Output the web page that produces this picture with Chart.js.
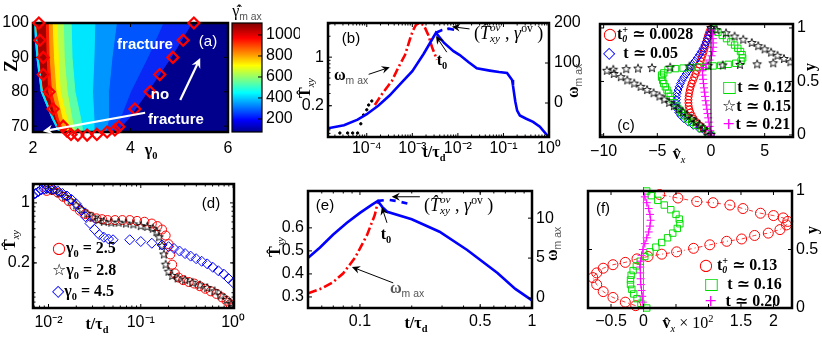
<!DOCTYPE html>
<html>
<head>
<meta charset="utf-8">
<title>fracture map and stress overshoot</title>
<script src="https://cdn.jsdelivr.net/npm/chart.js@4.4.1/dist/chart.umd.min.js"></script>
<style>
  body { margin: 0; background: #fff; }
  #fig { position: relative; width: 822px; height: 341px; overflow: hidden; background: #fff;
         font-family: "Liberation Sans", Arial, sans-serif; color: #000; }
  #fig canvas { position: absolute; }
  .lbl { position: absolute; white-space: nowrap; line-height: 1; z-index: 5; transform: translate(-50%, -50%); }
  .lft { transform: translate(0, -50%); }
  .rot { transform: translate(-50%, -50%) rotate(-90deg); }
  .m { font-family: "Liberation Serif", "DejaVu Serif", serif; font-weight: bold; font-size: 16px; }
  .ov { font-family: "Liberation Serif", "DejaVu Serif", serif; font-size: 18px; }
  .p { font-size: 15px; }
  .w { color: #fff; font-weight: bold; }
  sub, sup { font-size: 65%; line-height: 0; }
  .g { font-family: "Liberation Sans", Arial, sans-serif; font-weight: normal; color: #555; }
  .it { font-style: italic; font-weight: normal; }
  .st { display: inline-block; vertical-align: -0.3em; font-size: 62%; line-height: 0.95; text-align: left; }
  .st i { display: block; }
  .sym { font-family: "DejaVu Sans", sans-serif; font-weight: normal; }
</style>
</head>
<body>
<div id="fig">
  <!-- (a) -->
  <div class="lbl rot m" style="left:11px;top:66px;font-size:18px">Z</div>
  <div class="lbl m" style="left:151px;top:150px">&gamma;<sub>0</sub></div>
  <div class="lbl p w" style="left:145px;top:43px">fracture</div>
  <div class="lbl p" style="left:208px;top:40px;color:#fff">(a)</div>
  <div class="lbl p w" style="left:160px;top:93px">no</div>
  <div class="lbl p w" style="left:176px;top:118px">fracture</div>
  <div class="lbl m" style="left:247px;top:11px;font-weight:normal">&gamma;&#770;&#775;<sub class="g">m ax</sub></div>

  <!-- (b) -->
  <div class="lbl p" style="left:351px;top:37px">(b)</div>
  <div class="lbl rot m" style="left:305px;top:88px">T&#770;<sub class="it">xy</sub></div>
  <div class="lbl m" style="left:351px;top:75px">&omega;<sub class="g">m ax</sub></div>
  <div class="lbl m" style="left:442px;top:60px">t<sub>0</sub></div>
  <div class="lbl lft ov" style="left:474px;top:33px">(<i>T&#770;</i><span class="st"><i>ov</i><i>xy</i></span> , <i>&gamma;</i><sup>ov</sup> )</div>
  <div class="lbl rot m" style="left:573px;top:81px">&omega;<sub class="g">m ax</sub></div>
  <div class="lbl m" style="left:434px;top:152px">t/&tau;<sub>d</sub></div>

  <!-- (c) -->
  <div class="lbl lft m" style="left:603px;top:34px"><span class="sym" style="color:#f00">&#9675;</span>t<span class="st"><i>+</i><i>0</i></span> &#8771; 0.0028</div>
  <div class="lbl lft m" style="left:603px;top:53px"><span class="sym" style="color:#00f">&#9671;</span>&nbsp; t &#8771; 0.05</div>
  <div class="lbl lft m" style="left:722px;top:87px"><span class="sym" style="color:#0d0">&#9633;</span>t &#8771; 0.12</div>
  <div class="lbl lft m" style="left:722px;top:106px"><span class="sym">&#9734;</span>t &#8771; 0.15</div>
  <div class="lbl lft m" style="left:722px;top:124px"><span class="sym" style="color:#f0f">+</span>t &#8771; 0.21</div>
  <div class="lbl p" style="left:626px;top:124px">(c)</div>
  <div class="lbl m" style="left:679px;top:154px">v&#770;<sub class="it">x</sub></div>
  <div class="lbl rot m" style="left:810px;top:67px">y</div>

  <!-- (d) -->
  <div class="lbl p" style="left:211px;top:202px">(d)</div>
  <div class="lbl lft m" style="left:52px;top:248px"><span class="sym" style="color:#f00">&#9675;</span>&gamma;<sub>0</sub> = 2.5</div>
  <div class="lbl lft m" style="left:52px;top:270px"><span class="sym">&#9734;</span>&gamma;<sub>0</sub> = 2.8</div>
  <div class="lbl lft m" style="left:52px;top:291px"><span class="sym" style="color:#00f">&#9671;</span>&gamma;<sub>0</sub> = 4.5</div>
  <div class="lbl rot m" style="left:10px;top:240px">T&#770;<sub class="it">xy</sub></div>
  <div class="lbl m" style="left:97px;top:324px">t/&tau;<sub>d</sub></div>

  <!-- (e) -->
  <div class="lbl p" style="left:325px;top:204px">(e)</div>
  <div class="lbl m" style="left:386px;top:234px">t<sub>0</sub></div>
  <div class="lbl lft ov" style="left:424px;top:205px">(<i>T&#770;</i><span class="st"><i>ov</i><i>xy</i></span> , <i>&gamma;</i><sup>ov</sup> )</div>
  <div class="lbl m" style="left:407px;top:288px;color:#555">&omega;<sub class="g">m ax</sub></div>
  <div class="lbl rot m" style="left:275px;top:247px">T&#770;<sub class="it">xy</sub></div>
  <div class="lbl rot m" style="left:552px;top:244px">&omega;<sub class="g">m ax</sub></div>
  <div class="lbl m" style="left:416px;top:323px">t/&tau;<sub>d</sub></div>

  <!-- (f) -->
  <div class="lbl p" style="left:603px;top:207px">(f)</div>
  <div class="lbl lft m" style="left:699px;top:265px"><span class="sym" style="color:#f00">&#9675;</span> t<span class="st"><i>+</i><i>0</i></span> &#8771; 0.13</div>
  <div class="lbl lft m" style="left:704px;top:284px"><span class="sym" style="color:#0d0">&#9633;</span>&nbsp; t &#8771; 0.16</div>
  <div class="lbl lft m" style="left:704px;top:301px"><span class="sym" style="color:#f0f">+</span>&nbsp; t &#8771; 0.20</div>
  <div class="lbl m" style="left:688px;top:323px">v&#770;<sub class="it">x</sub> <span style="font-weight:normal">&times; 10<sup>2</sup></span></div>
  <div class="lbl rot m" style="left:812px;top:230px">y</div>
</div>

<script>
// ---------- (a) fracture map: contour bands and boundary diamonds (gamma0, Z) ----------
const aDiamondGamma = [2.12, 2.14, 2.21, 2.21, 2.33, 2.41, 2.62, 2.70, 2.78, 2.92, 3.11, 3.31, 3.52, 3.68, 3.76, 4.09, 4.40, 4.60, 4.87, 5.08, 5.30];
const aDiamondZ     = [100, 95, 90, 85, 80, 75, 70, 68.5, 67.6, 67.4, 67.4, 67.6, 68.3, 68.9, 69.8, 75, 80, 85, 90, 95, 100];

// contour lines: gamma0 where each band ends, at these Z levels
const aLevelZ    = [101, 90, 80, 72, 66];
const aEdgeOuter = [2.02, 2.08, 2.17, 2.40, 2.62];
const aEdgeInner = [2.07, 2.13, 2.22, 2.45, 2.67];
const aBlue2     = [5.30, 4.83, 4.35, 3.95, 3.55];
const aBlue1     = [4.70, 4.35, 4.00, 3.78, 3.50];
const aLightBlue = [3.72, 3.62, 3.55, 3.55, 3.45];
const aCyan      = [3.27, 3.25, 3.22, 3.25, 3.25];
const aAqua      = [2.78, 2.80, 2.86, 2.98, 3.05];
const aLime      = [2.62, 2.64, 2.70, 2.80, 2.90];
const aYellow    = [2.49, 2.52, 2.56, 2.70, 2.85];
const aOrange    = [2.39, 2.42, 2.47, 2.60, 2.78];
const aRed       = [2.31, 2.33, 2.38, 2.52, 2.70];
const aDarkRed   = [2.25, 2.27, 2.30, 2.46, 2.68];

const aTickX = [2, 4, 6];
const aTickY = [70, 80, 90, 100];
const cbarRange = [76, 1114];
const cbarTicks = [200, 400, 600, 800, 1000];

// ---------- (b) shear stress (left, log) and vorticity (right) vs t/tau_d ----------
const bTimeShear = [1.41e-5, 3.16e-5, 6.3e-5, 1.0e-4, 1.78e-4, 3.16e-4, 5.6e-4, 1.0e-3, 1.78e-3, 3.3e-3, 5.0e-3, 8.0e-3, 0.011, 0.017, 0.026, 0.05, 0.08, 0.12, 0.155, 0.162, 0.182, 0.2, 0.229, 0.316, 0.447, 0.63, 1.0];
const bShear     = [0.095, 0.105, 0.126, 0.151, 0.2, 0.28, 0.42, 0.63, 1.12, 2.24, 1.6, 1.22, 1.07, 0.85, 0.69, 0.64, 0.61, 0.59, 0.47, 0.39, 0.23, 0.17, 0.145, 0.13, 0.117, 0.1, 0.07];
const bTimeOver  = [3.3e-3, 4.5e-3, 6.3e-3, 8.9e-3];
const bShearOver = [2.24, 2.45, 2.57, 2.45];
const bTimeOmega = [1.5e-4, 2.24e-4, 3.55e-4, 5.0e-4, 6.9e-4, 8.9e-4, 1.02e-3, 1.2e-3, 1.41e-3, 1.78e-3, 2.24e-3, 2.7e-3, 3.16e-3, 3.47e-3];
const bOmega     = [-5, 25, 55, 90, 120, 160, 180, 195, 200, 195, 170, 140, 120, 108];
const bTimeDots  = [2.57e-5, 3.8e-5, 4.9e-5, 6.3e-5, 7.4e-5, 8.5e-5, 1.0e-4, 1.1e-4, 1.29e-4];
const bOmegaDots = [-75, -75, -75, -75, -52, -30, -17, -5, 5];
const bTickX = [1e-4, 1e-3, 1e-2, 1e-1, 1];
const bTickLabelX = ['10⁻⁴', '10⁻³', '10⁻²', '10⁻¹', '10⁰'];
const bTickY = [0.2, 1];
const bTickY2 = [0, 100, 200];

// ---------- (c) velocity profiles v_x(y) at early times ----------
const cGridY  = [0, 0.03, 0.06, 0.09, 0.12, 0.15, 0.18, 0.21, 0.24, 0.27, 0.30, 0.33, 0.36, 0.39, 0.42, 0.45, 0.48, 0.51, 0.54, 0.57, 0.60, 0.63, 0.66, 0.69, 0.72, 0.75, 0.78, 0.81, 0.84, 0.87, 0.90, 0.93, 0.96, 0.99];
const cRedV   = [0, -0.3, -0.7, -1.05, -1.35, -1.6, -1.78, -1.92, -2.02, -2.08, -2.1, -2.1, -2.08, -2.03, -1.97, -1.9, -1.8, -1.68, -1.56, -1.44, -1.32, -1.2, -1.08, -0.97, -0.87, -0.77, -0.68, -0.6, -0.52, -0.44, -0.36, -0.27, -0.17, -0.05];
const cBlueV  = [0, -0.5, -1.1, -1.65, -2.1, -2.5, -2.8, -3.0, -3.12, -3.2, -3.22, -3.22, -3.2, -3.15, -3.07, -2.97, -2.85, -2.7, -2.52, -2.32, -2.12, -1.92, -1.72, -1.5, -1.28, -1.08, -0.9, -0.73, -0.58, -0.45, -0.32, -0.2, -0.08, 0.05];
const cGreenV = [0, -0.4, -0.9, -1.4, -1.8, -2.2, -2.5, -2.75, -3.0, -3.2, -3.4, -3.6, -3.8, -3.95, -4.1, -4.25, -4.4, -4.5, -4.6, -4.6, -4.4, -4.0, -3.3, -2.6, -1.9, -1.2, -0.5, 0.2, 0.9, 1.6, 2.3, 2.8, 2.95, 2.9, 2.75, 2.5, 2.2, 1.85, 1.45, 1.05, 0.65, 0.3];
const cGreenY = [0, 0.03, 0.06, 0.09, 0.12, 0.15, 0.18, 0.21, 0.24, 0.27, 0.30, 0.33, 0.36, 0.39, 0.42, 0.45, 0.48, 0.51, 0.54, 0.56, 0.58, 0.61, 0.62, 0.625, 0.63, 0.635, 0.64, 0.645, 0.65, 0.66, 0.67, 0.69, 0.72, 0.75, 0.78, 0.81, 0.84, 0.87, 0.90, 0.93, 0.96, 0.99];
const cStarV  = [0, -0.35, -0.7, -1.05, -1.4, -1.8, -2.2, -2.6, -3.0, -3.45, -3.9, -4.35, -4.8, -5.35, -5.95, -6.55, -7.15, -7.8, -8.4, -9.05, -9.7,
                 -9.1, -7.9, -6.8, -5.5, -3.8, -2.0, -0.26, 1.1, 2.7, 4.3, 5.8, 7.4,
                 6.8, 6.2, 5.6, 5.0, 4.4, 3.8, 3.0, 2.2, 1.4, 0.5, 0];
const cStarY  = [0, 0.03, 0.06, 0.09, 0.12, 0.15, 0.18, 0.21, 0.24, 0.27, 0.30, 0.33, 0.36, 0.39, 0.42, 0.45, 0.48, 0.51, 0.54, 0.57, 0.60,
                 0.61, 0.615, 0.62, 0.625, 0.63, 0.64, 0.645, 0.65, 0.655, 0.66, 0.67, 0.68,
                 0.71, 0.74, 0.77, 0.80, 0.83, 0.86, 0.89, 0.92, 0.95, 0.98, 1.0];
const cMagV   = [0, -0.07, -0.13, -0.2, -0.26, -0.32, -0.38, -0.44, -0.5, -0.55, -0.6, -0.65, -0.7, -0.74, -0.78, -0.8, -0.7, -0.45, -0.15, 0.05, 0.15, 0.2, 0.2, 0.18, 0.12, 0.05];
const cMagY   = [0, 0.04, 0.08, 0.12, 0.16, 0.2, 0.24, 0.28, 0.32, 0.36, 0.4, 0.44, 0.48, 0.52, 0.56, 0.6, 0.63, 0.66, 0.7, 0.74, 0.78, 0.82, 0.86, 0.9, 0.94, 0.98];
const cZeroV  = [0, 0];
const cZeroY  = [-0.05, 1.05];
const cTickX = [-10, -5, 0, 5];
const cTickLabelX = ['−10', '−5', '0', '5'];
const cTickY = [0, 0.5, 1];

// ---------- (d) shear stress decay for three gamma0 ----------
const dRedT  = [0.00955, 0.01096, 0.01259, 0.01445, 0.0166, 0.0191, 0.0219, 0.0251, 0.0288, 0.0331, 0.038, 0.0437, 0.0525, 0.0631, 0.0759, 0.0912, 0.1096, 0.1318, 0.1514, 0.17, 0.186, 0.2, 0.209, 0.219, 0.234, 0.257, 0.288, 0.331, 0.38, 0.437, 0.501, 0.575, 0.661, 0.759, 0.851, 0.933, 1.0];
const dRedS  = [1.38, 1.41, 1.32, 1.175, 1.047, 0.912, 0.813, 0.741, 0.692, 0.661, 0.646, 0.631, 0.631, 0.631, 0.631, 0.617, 0.603, 0.575, 0.537, 0.49, 0.417, 0.331, 0.251, 0.191, 0.151, 0.135, 0.126, 0.12, 0.115, 0.107, 0.1, 0.0933, 0.0871, 0.0794, 0.0724, 0.0661, 0.0603];
const dStarT = [0.01, 0.01148, 0.01318, 0.01514, 0.01738, 0.01995, 0.0229, 0.0263, 0.0302, 0.0347, 0.0398, 0.0479, 0.0575, 0.0692, 0.0832, 0.1, 0.1175, 0.1349, 0.148, 0.158, 0.17, 0.178, 0.186, 0.2, 0.219, 0.251, 0.302, 0.363, 0.437, 0.525, 0.631, 0.741, 0.851, 0.955, 1.0];
const dStarS = [1.413, 1.38, 1.288, 1.175, 1.047, 0.933, 0.832, 0.741, 0.676, 0.631, 0.603, 0.589, 0.589, 0.575, 0.562, 0.537, 0.525, 0.501, 0.457, 0.398, 0.316, 0.251, 0.191, 0.158, 0.141, 0.132, 0.126, 0.1175, 0.1096, 0.102, 0.0933, 0.0832, 0.0741, 0.0661, 0.0617];
const dBlueT = [0.00676, 0.00724, 0.00776, 0.00832, 0.00891, 0.00955, 0.01023, 0.01122, 0.01259, 0.01413, 0.01585, 0.01778, 0.01995, 0.0224, 0.0251, 0.0282, 0.0316, 0.0355, 0.0398, 0.0447, 0.0501,
                0.0759, 0.1, 0.1318, 0.17, 0.2, 0.229, 0.263, 0.302, 0.347, 0.398, 0.457, 0.525, 0.603, 0.692, 0.794, 0.891, 1.0];
const dBlueS = [1.23, 1.288, 1.349, 1.413, 1.445, 1.479, 1.479, 1.445, 1.38, 1.288, 1.202, 1.096, 0.977, 0.832, 0.692, 0.575, 0.49, 0.427, 0.398, 0.38, 0.372,
                0.372, 0.355, 0.339, 0.324, 0.309, 0.295, 0.275, 0.257, 0.24, 0.224, 0.209, 0.195, 0.178, 0.162, 0.148, 0.132, 0.1175];
const dTickX = [0.01, 0.1, 1];
const dTickLabelX = ['10⁻²', '10⁻¹', '10⁰'];
const dTickY = [0.2, 1];

// ---------- (e) shear stress (left) and vorticity (right), gamma0 = 4.5 ----------
const eTimeShear = [0.05, 0.0586, 0.0697, 0.084, 0.1, 0.117, 0.127, 0.135, 0.144, 0.2, 0.29, 0.42, 0.63, 0.8, 1.0];
const eShear     = [0.47, 0.515, 0.57, 0.622, 0.665, 0.7, 0.717, 0.69, 0.67, 0.637, 0.583, 0.504, 0.404, 0.335, 0.285];
const eTimeOver  = [0.127, 0.145, 0.165, 0.19];
const eShearOver = [0.717, 0.722, 0.716, 0.705];
const eTimeOmega = [0.05, 0.06, 0.07, 0.08, 0.094, 0.11, 0.122, 0.127];
const eOmega     = [0.6, 1.2, 2.0, 3.1, 5.1, 7.9, 10.4, 12.0];
const eTickX = [0.1, 0.5, 1];
const eTickY = [0.3, 0.4, 0.5, 0.6];
const eTickY2 = [0, 5, 10];

// ---------- (f) velocity profiles after t0 (x 10^2) ----------
const fRedV   = [-0.12, -0.28, -0.47, -0.62, -0.72, -0.78, -0.72, -0.62, -0.47, -0.28, -0.10, 0.07, 0.28, 0.51, 0.77, 1.02, 1.28, 1.51, 1.71, 1.92, 2.10, 2.20, 2.22, 2.15, 2.00, 1.80, 1.53, 1.33, 1.07, 0.82, 0.53, 0.25];
const fRedY   = [0.02, 0.05, 0.09, 0.14, 0.20, 0.26, 0.30, 0.34, 0.37, 0.39, 0.42, 0.44, 0.46, 0.48, 0.51, 0.54, 0.57, 0.59, 0.62, 0.64, 0.67, 0.71, 0.74, 0.77, 0.79, 0.81, 0.85, 0.88, 0.90, 0.91, 0.94, 0.97];
const fGreenV = [0.05, -0.04, -0.1, -0.15, -0.18, -0.2, -0.2, -0.19, -0.16, -0.11, -0.05, 0.02, 0.1, 0.19, 0.28, 0.37, 0.45, 0.52, 0.56, 0.55, 0.5, 0.42, 0.32, 0.22, 0.12, 0.05];
const fGreenY = [0, 0.04, 0.08, 0.12, 0.16, 0.2, 0.24, 0.28, 0.32, 0.36, 0.4, 0.44, 0.48, 0.52, 0.56, 0.6, 0.64, 0.68, 0.72, 0.76, 0.8, 0.84, 0.88, 0.92, 0.96, 1.0];
const fMagV   = [0, -0.01, -0.02, -0.03, -0.04, -0.045, -0.05, -0.05, -0.045, -0.03, -0.01, 0.02, 0.05, 0.08, 0.1, 0.11, 0.1, 0.08, 0.05, 0.02, 0];
const fMagY   = [0, 0.05, 0.1, 0.15, 0.2, 0.25, 0.3, 0.35, 0.4, 0.45, 0.5, 0.55, 0.6, 0.65, 0.7, 0.75, 0.8, 0.85, 0.9, 0.95, 1.0];
const fZeroV  = [0, 0];
const fZeroY  = [0, 1];
const fTickX = [-0.5, 0, 0.5, 1, 1.5, 2];
const fTickLabelX = ['−0.5', '0', '', '', '1.5', '2'];
const fTickY = [0, 0.5, 1];

// ---------------------------------------------------------------------------------

Chart.defaults.font.family = '"Liberation Sans", Arial, sans-serif';
Chart.defaults.font.size = 16;
Chart.defaults.color = '#000';
Chart.defaults.plugins.legend.display = false;
Chart.defaults.plugins.tooltip.enabled = false;

const jetStops = [[0, '#00008f'], [0.11, '#0000ff'], [0.36, '#00ffff'], [0.61, '#ffff00'], [0.86, '#ff0000'], [1, '#800000']];

// box with inward ticks (matlab look)
function drawFrame(chart, o) {
  const { ctx, chartArea: a } = chart;
  ctx.save();
  ctx.strokeStyle = '#000';
  ctx.lineWidth = 1;
  Object.values(chart.scales).forEach(s => {
    if (!s.options.display) return;
    const horiz = s.isHorizontal();
    const sides = [s.position];
    if (horiz && o.mirrorX) sides.push(s.position === 'bottom' ? 'top' : 'bottom');
    if (!horiz && o.mirrorY) sides.push(s.position === 'left' ? 'right' : 'left');
    const marks = s.ticks.map(t => [t.value, 4]);
    if (s.type === 'logarithmic') {
      for (let e = Math.floor(Math.log10(s.min)); e <= Math.ceil(Math.log10(s.max)); e++) {
        for (let m = 2; m <= 9; m++) {
          const v = m * Math.pow(10, e);
          if (v > s.min && v < s.max) marks.push([v, 2.5]);
        }
      }
    }
    marks.forEach(([v, len]) => {
      const p = s.getPixelForValue(v);
      sides.forEach(side => {
        ctx.beginPath();
        if (side === 'bottom') { ctx.moveTo(p, a.bottom); ctx.lineTo(p, a.bottom - len); }
        if (side === 'top') { ctx.moveTo(p, a.top); ctx.lineTo(p, a.top + len); }
        if (side === 'left') { ctx.moveTo(a.left, p); ctx.lineTo(a.left + len, p); }
        if (side === 'right') { ctx.moveTo(a.right, p); ctx.lineTo(a.right - len, p); }
        ctx.stroke();
      });
    });
  });
  ctx.lineWidth = o.width || 2.5;
  ctx.strokeRect(a.left, a.top, a.right - a.left, a.bottom - a.top);
  ctx.restore();
}

const framePlugin = {
  id: 'frame',
  beforeDatasetsDraw(chart) {
    const o = chart.config.options.plugins.frame || {};
    if (!o.bg) return;
    const a = chart.chartArea;
    chart.ctx.save();
    chart.ctx.fillStyle = o.bg;
    chart.ctx.fillRect(a.left, a.top, a.right - a.left, a.bottom - a.top);
    chart.ctx.restore();
  },
  afterDatasetDraw(chart, args) {
    const o = chart.config.options.plugins.frame || {};
    if (o.after === args.index) drawFrame(chart, o);
  },
  afterDatasetsDraw(chart) {
    const o = chart.config.options.plugins.frame || {};
    if (o.after === undefined) drawFrame(chart, o);
  }
};

// annotation arrows given in data coordinates
const arrowPlugin = {
  id: 'arrows',
  afterDraw(chart) {
    const list = (chart.config.options.plugins.arrows || {}).list || [];
    const ctx = chart.ctx;
    list.forEach(a => {
      const sx = chart.scales.x, sy = chart.scales[a.axis || 'y'];
      const x1 = sx.getPixelForValue(a.from[0]), y1 = sy.getPixelForValue(a.from[1]);
      const x2 = sx.getPixelForValue(a.to[0]), y2 = sy.getPixelForValue(a.to[1]);
      const ang = Math.atan2(y2 - y1, x2 - x1);
      const h = a.head || 8;
      ctx.save();
      ctx.strokeStyle = ctx.fillStyle = a.color || '#000';
      ctx.lineWidth = a.width || 1;
      ctx.beginPath();
      ctx.moveTo(x1, y1);
      ctx.lineTo(x2 - h * 0.6 * Math.cos(ang), y2 - h * 0.6 * Math.sin(ang));
      ctx.stroke();
      ctx.beginPath();
      ctx.moveTo(x2, y2);
      ctx.lineTo(x2 - h * Math.cos(ang - 0.45), y2 - h * Math.sin(ang - 0.45));
      ctx.lineTo(x2 - h * 0.6 * Math.cos(ang), y2 - h * 0.6 * Math.sin(ang));
      ctx.lineTo(x2 - h * Math.cos(ang + 0.45), y2 - h * Math.sin(ang + 0.45));
      ctx.closePath();
      ctx.fill();
      ctx.restore();
    });
  }
};

Chart.register(framePlugin, arrowPlugin);

function mkCanvas(x, y, w, h) {
  const c = document.createElement('canvas');
  c.width = w; c.height = h;
  c.style.left = x + 'px'; c.style.top = y + 'px';
  c.style.width = w + 'px'; c.style.height = h + 'px';
  document.getElementById('fig').appendChild(c);
  return c;
}

function xy(xs, ys) { return xs.map((x, i) => ({ x, y: ys[i] })); }

function axis(type, position, min, max, ticks, labels, size, pad) {
  const horiz = position === 'bottom' || position === 'top';
  return {
    type, position, min, max, bounds: 'data',
    grid: { display: false, drawTicks: false },
    border: { display: false },
    ticks: { padding: pad, maxRotation: 0, autoSkip: false, callback: (v, i) => labels[i] },
    afterBuildTicks: s => { s.ticks = ticks.map(v => ({ value: v })); },
    afterFit: s => { if (horiz) s.height = size; else s.width = size; }
  };
}

function lineSet(xs, ys, color, width, dash, axisId) {
  return { data: xy(xs, ys), showLine: true, borderColor: color, borderWidth: width, borderDash: dash,
           pointRadius: 0, tension: 0, fill: false, yAxisID: axisId || 'y' };
}

function markSet(xs, ys, style, color, radius, axisId) {
  return { data: xy(xs, ys), showLine: false, pointStyle: style, pointRadius: radius,
           pointBorderColor: color, pointBackgroundColor: 'rgba(0,0,0,0)', pointBorderWidth: 1,
           yAxisID: axisId || 'y' };
}

function starIcon(r, color) {
  const c = document.createElement('canvas');
  const s = Math.ceil(r * 2 + 3);
  c.width = c.height = s;
  const g = c.getContext('2d');
  g.strokeStyle = color;
  g.lineWidth = 0.9;
  g.beginPath();
  for (let k = 0; k < 10; k++) {
    const rr = k % 2 ? r * 0.42 : r;
    const an = -Math.PI / 2 + k * Math.PI / 5;
    g.lineTo(s / 2 + rr * Math.cos(an), s / 2 + rr * Math.sin(an));
  }
  g.closePath();
  g.stroke();
  return c;
}

function opts(padding, scales, frame, arrows) {
  return {
    responsive: false, animation: false, events: [], devicePixelRatio: 1,
    layout: { padding },
    scales,
    plugins: { frame, arrows: { list: arrows || [] } }
  };
}

const str = a => a.map(String);

// ----- (a) -----
function bandShape(edge, band) {
  const left = aLevelZ.map((z, i) => ({ x: edge[i], y: z }));
  const right = aLevelZ.map((z, i) => ({ x: band[i], y: z })).reverse();
  return [{ x: 1.9, y: 101 }, ...left, ...right, { x: 6.1, y: 101 }];
}

const aBands = [
  [aDarkRed, '#a50000', aEdgeInner],
  [aRed, '#ff1a00', aEdgeInner],
  [aOrange, '#ff9600', aEdgeInner],
  [aYellow, '#fff000', aEdgeInner],
  [aLime, '#b4ff4c', aEdgeInner],
  [aAqua, '#5affa8', aEdgeInner],
  [aCyan, '#00e6ff', aEdgeOuter],
  [aLightBlue, '#0096ff', aEdgeOuter],
  [aBlue1, '#0055ff', aEdgeOuter],
  [aBlue2, '#0a28f5', aEdgeOuter]
];

const aDatasets = [{
  data: xy(aDiamondGamma, aDiamondZ), showLine: false, pointStyle: 'rectRot', pointRadius: 5.5,
  pointBorderColor: '#ff0000', pointBackgroundColor: 'rgba(0,0,0,0)', pointBorderWidth: 2.2, clip: false
}].concat(aBands.map(([band, color, edge]) => ({
  data: bandShape(edge, band), fill: 'shape', showLine: true, backgroundColor: color,
  borderColor: color, borderWidth: 1, pointRadius: 0, tension: 0
})));

new Chart(mkCanvas(0, 0, 242, 160), {
  type: 'line',
  data: { datasets: aDatasets },
  options: opts({ left: 0, top: 23, right: 14, bottom: 0 }, {
    x: axis('linear', 'bottom', 2, 6, aTickX, str(aTickX), 28, 7),
    y: axis('linear', 'left', 68.3, 100, aTickY, str(aTickY), 33, 4)
  }, { after: 1, mirrorX: true, mirrorY: true, bg: '#00008c' }, [
    { from: [4.30, 73.9], to: [2.2, 68.5], color: '#fff', width: 2.2, head: 11 },
    { from: [5.02, 77.6], to: [5.43, 89.8], color: '#fff', width: 2.2, head: 11 }
  ])
});

// colour bar
new Chart(mkCanvas(226, 0, 74, 160), {
  type: 'bar',
  data: { labels: [''], datasets: [{
    data: [cbarRange], barPercentage: 1, categoryPercentage: 1, borderWidth: 0,
    backgroundColor: c => {
      const a = c.chart.chartArea;
      if (!a) return '#000';
      const g = c.chart.ctx.createLinearGradient(0, a.bottom, 0, a.top);
      jetStops.forEach(([p, col]) => g.addColorStop(p, col));
      return g;
    }
  }] },
  options: opts({ left: 6, top: 23, right: 0, bottom: 28 }, {
    x: { display: false },
    y: axis('linear', 'right', cbarRange[0], cbarRange[1], cbarTicks, str(cbarTicks), 38, 4)
  }, { width: 1.2 })
});

// ----- (b) -----
new Chart(mkCanvas(296, 0, 292, 160), {
  type: 'scatter',
  data: { datasets: [
    lineSet(bTimeShear, bShear, '#0000ff', 2.6, [], 'y'),
    lineSet(bTimeOver, bShearOver, '#0000ff', 2.6, [7, 5], 'y'),
    lineSet(bTimeOmega, bOmega, '#ff0000', 2.6, [9, 3, 2, 3], 'y1'),
    { data: xy(bTimeDots, bOmegaDots), showLine: false, pointRadius: 1.2, pointBackgroundColor: '#000',
      pointBorderColor: '#000', yAxisID: 'y1' }
  ] },
  options: opts({ left: 0, top: 23, right: 0, bottom: 0 }, {
    x: axis('logarithmic', 'bottom', 1.41e-5, 1, bTickX, bTickLabelX, 23, 2),
    y: axis('logarithmic', 'left', 0.071, 3.1, bTickY, str(bTickY), 32, 4),
    y1: axis('linear', 'right', -85, 200, bTickY2, str(bTickY2), 39, 5)
  }, { mirrorX: true }, [
    { from: [1.1e-4, 0.566], to: [3.2e-4, 0.715], head: 9 },
    { from: [5.7e-3, 1.18], to: [3.3e-3, 2.02], head: 9 },
    { from: [0.018, 2.55], to: [7.4e-3, 2.74], head: 9 }
  ])
});

// ----- (c) -----
new Chart(mkCanvas(580, 0, 242, 160), {
  type: 'scatter',
  data: { datasets: [
    lineSet(cZeroV, cZeroY, '#000', 1, []),
    markSet(cMagV, cMagY, 'cross', '#ff00ff', 4),
    markSet(cStarV, cStarY, starIcon(4.5, '#000'), '#000', 4.5),
    markSet(cGreenV, cGreenY, 'rect', '#00e000', 4.5),
    markSet(cBlueV, cGridY, 'rectRot', '#0000ff', 4),
    markSet(cRedV, cGridY, 'circle', '#ff0000', 3.5)
  ] },
  options: opts({ left: 20, top: 24, right: 0, bottom: 0 }, {
    x: axis('linear', 'bottom', -10.34, 7.64, cTickX, cTickLabelX, 23, 5),
    y: axis('linear', 'right', -0.019, 1.037, cTickY, str(cTickY), 29, 4)
  }, { mirrorX: true, mirrorY: true })
});

// ----- (d) -----
new Chart(mkCanvas(0, 165, 250, 176), {
  type: 'scatter',
  data: { datasets: [
    markSet(dBlueT, dBlueS, 'rectRot', '#0000ff', 5),
    markSet(dStarT, dStarS, starIcon(4.5, '#000'), '#000', 4.5),
    markSet(dRedT, dRedS, 'circle', '#ff0000', 4.5)
  ] },
  options: opts({ left: 0, top: 19, right: 10, bottom: 0 }, {
    x: axis('logarithmic', 'bottom', 0.00679, 1.024, dTickX, dTickLabelX, 33, 5),
    y: axis('logarithmic', 'left', 0.0597, 1.66, dTickY, str(dTickY), 33, 3)
  }, { mirrorX: true, mirrorY: true })
});

// ----- (e) -----
new Chart(mkCanvas(272, 165, 290, 176), {
  type: 'scatter',
  data: { datasets: [
    lineSet(eTimeShear, eShear, '#0000ff', 2.6, [], 'y'),
    lineSet(eTimeOver, eShearOver, '#0000ff', 2.6, [6, 6], 'y'),
    lineSet(eTimeOmega, eOmega, '#ff0000', 2.6, [9, 3, 2, 3], 'y1')
  ] },
  options: opts({ left: 0, top: 26, right: 0, bottom: 0 }, {
    x: axis('logarithmic', 'bottom', 0.0499, 1, eTickX, str(eTickX), 33, 4),
    y: axis('linear', 'left', 0.252, 0.76, eTickY, str(eTickY), 36, 4),
    y1: axis('linear', 'right', -1.25, 13.4, eTickY2, str(eTickY2), 30, 4)
  }, { mirrorX: true }, [
    { from: [0.223, 0.735], to: [0.153, 0.735], head: 9 },
    { from: [0.1436, 0.622], to: [0.134, 0.691], head: 9 },
    { from: [0.156, 0.361], to: [0.0898, 0.43], head: 9 }
  ])
});

// ----- (f) -----
const fRedSet = markSet(fRedV, fRedY, 'circle', '#ff0000', 5);
fRedSet.showLine = true;
fRedSet.borderColor = '#ff0000';
fRedSet.borderWidth = 0.8;
fRedSet.borderDash = [4, 3, 1, 3];
fRedSet.clip = 6;

new Chart(mkCanvas(578, 165, 244, 176), {
  type: 'scatter',
  data: { datasets: [
    lineSet(fZeroV, fZeroY, '#888', 1, []),
    Object.assign(markSet(fMagV, fMagY, 'cross', '#ff00ff', 4), { showLine: true, borderColor: '#ff00ff', borderWidth: 0.8, clip: 6 }),
    Object.assign(markSet(fGreenV, fGreenY, 'rect', '#00e000', 4.5), { clip: 6 }),
    fRedSet
  ] },
  options: opts({ left: 10, top: 26, right: 0, bottom: 0 }, {
    x: axis('linear', 'bottom', -0.854, 2.285, fTickX, fTickLabelX, 33, 4),
    y: axis('linear', 'right', 0, 1, fTickY, str(fTickY), 30, 4)
  }, { mirrorX: true, mirrorY: true })
});
</script>
</body>
</html>
